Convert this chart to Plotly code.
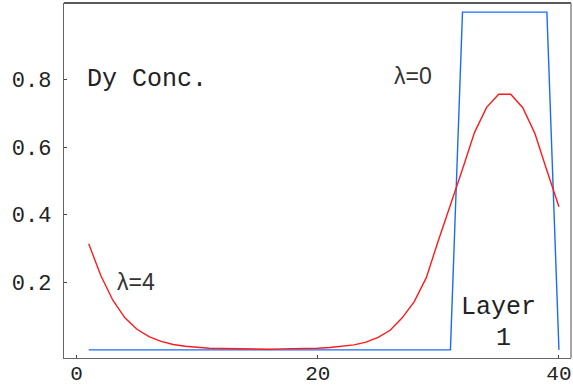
import plotly.graph_objects as go

# Layer index along the stack
layers = list(range(1, 41))

# Dy concentration, no interdiffusion (lambda = 0): pure Dy in layers 32-39
conc_lambda0 = [0.0] * 31 + [1.0] * 8 + [0.0]

# Dy concentration after interdiffusion (lambda = 4)
conc_lambda4 = [
    0.314, 0.220, 0.147, 0.095, 0.061, 0.039, 0.025, 0.016, 0.011, 0.007,
    0.005, 0.004, 0.003, 0.003, 0.002, 0.002, 0.003, 0.003, 0.004, 0.005,
    0.007, 0.010, 0.015, 0.023, 0.037, 0.058, 0.095, 0.143, 0.214, 0.324,
    0.428, 0.535, 0.644, 0.718, 0.757, 0.757, 0.717, 0.641, 0.531, 0.424,
]

x_ticks = [0, 20, 40]
y_ticks = [0.2, 0.4, 0.6, 0.8]
y_tick_text = ["0.2", "0.4", "0.6", "0.8"]

MONO = "Courier New, Liberation Mono, monospace"
SANS = "Liberation Sans, Arial, sans-serif"

fig = go.Figure()
fig.add_trace(go.Scatter(x=layers, y=conc_lambda0, mode="lines",
                         line=dict(color="#1a6cf5", width=1.4), showlegend=False))
fig.add_trace(go.Scatter(x=layers, y=conc_lambda4, mode="lines",
                         line=dict(color="#ff1a1a", width=1.4), showlegend=False))

axis_common = dict(showgrid=False, zeroline=False, showline=True,
                   linecolor="#666666", linewidth=1.3, ticks="inside",
                   ticklen=3, tickwidth=1, tickcolor="#444444",
                   automargin=False, ticklabeloverflow="allow")

fig.update_xaxes(range=[-1.05, 41.0], tickvals=x_ticks,
                 ticktext=[str(v) for v in x_ticks], ticklabelstandoff=-4,
                 tickfont=dict(family=MONO, size=21, color="#222222"),
                 **axis_common)
fig.update_yaxes(range=[-0.024, 1.027], tickvals=y_ticks,
                 ticktext=y_tick_text, ticklabelstandoff=7,
                 tickfont=dict(family=MONO, size=22, color="#222222"),
                 **axis_common)

# Top and right frame edges
fig.add_shape(type="line", xref="paper", yref="paper", x0=0, x1=1, y0=1, y1=1,
              line=dict(color="#222222", width=1.3))
fig.add_shape(type="line", xref="paper", yref="paper", x0=1, x1=1, y0=0, y1=1,
              line=dict(color="#777777", width=1.3))

fig.add_annotation(x=5.8, y=0.8, text="Dy Conc.", showarrow=False,
                   font=dict(family=MONO, size=25, color="#222222"))
fig.add_annotation(x=27.9, y=0.81, text="λ=0", showarrow=False,
                   font=dict(family=SANS, size=23, color="#333333"))
fig.add_annotation(x=4.9, y=0.2, text="λ=4", showarrow=False,
                   font=dict(family=SANS, size=23, color="#333333"))
fig.add_annotation(x=35.0, y=0.125, text="Layer", showarrow=False,
                   font=dict(family=MONO, size=25, color="#222222"))
fig.add_annotation(x=35.4, y=0.035, text="1", showarrow=False,
                   font=dict(family=MONO, size=25, color="#222222"))

fig.update_layout(width=573, height=392,
                  margin=dict(l=64, r=2, t=3, b=34),
                  plot_bgcolor="white", paper_bgcolor="white")

fig.write_html("out.html")
